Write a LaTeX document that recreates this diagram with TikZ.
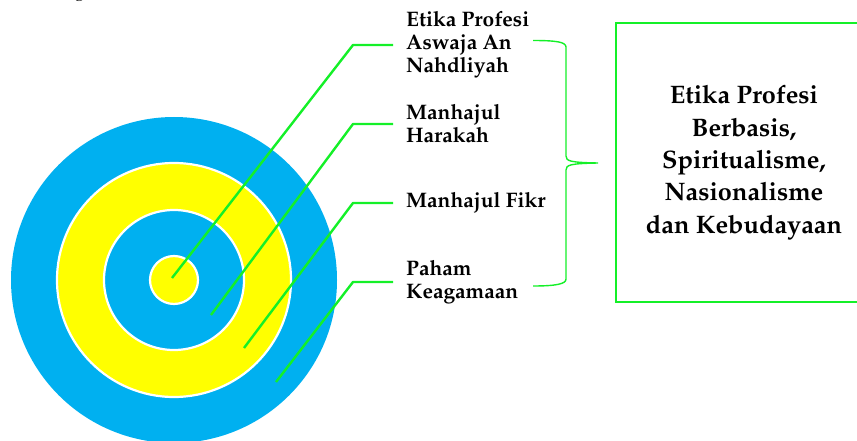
\documentclass[tikz,border=0pt]{standalone}
\usepackage[T1]{fontenc}
\usepackage{mathpazo}
\definecolor{ringblue}{RGB}{0,176,240}
\definecolor{ringyellow}{RGB}{255,255,0}
\definecolor{linegreen}{RGB}{20,240,40}
\tikzset{
  ring/.style={draw=white, line width=2.2pt},
  conn/.style={draw=linegreen, line width=2.4pt, line join=round},
  lbl/.style={anchor=west, align=left, inner xsep=13pt, inner ysep=0pt,
    font=\bfseries\fontsize{21}{23}\selectfont},
  bigbox/.style={draw=linegreen, line width=2.6pt, align=center,
    minimum width=256pt, minimum height=279pt,
    font=\bfseries\fontsize{25.3}{32.3}\selectfont},
  bracestyle/.style={draw=linegreen, line width=1.4pt}
}
\begin{document}
\begin{tikzpicture}[x=1pt,y=-1pt]
\useasboundingbox (0,0) rectangle (857,441);
% cut-off caption fragment (cut at the top edge, as in the reference)
\node[anchor=base west, inner sep=0pt, font=\fontsize{18}{20}\selectfont] (cap) at (64,-3.5) {ng (\hspace{166pt})};
% target circles
\fill[ringblue] (174,280) circle (163);
\filldraw[fill=ringyellow, ring] (174,280) circle (117);
\filldraw[fill=ringblue, ring] (174,280) circle (70);
\filldraw[fill=ringyellow, ring] (174,280) circle (24);
% end points inside the circles
\coordinate (p1) at (172,278);
\coordinate (p2) at (211,315);
\coordinate (p3) at (244,348);
\coordinate (p4) at (276,382);
% knees
\coordinate (k1) at (353,45);
\coordinate (k2) at (353,124);
\coordinate (k3) at (353,203);
\coordinate (k4) at (353,282);
% labels
\node[lbl] (l1) at (393,45) {Etika Profesi\\Aswaja An\\Nahdliyah};
\node[lbl] (l2) at (393,124) {Manhajul\\Harakah};
\node[lbl] (l3) at (393,203) {Manhajul Fikr};
\node[lbl] (l4) at (393,282) {Paham\\Keagamaan};
% connectors
\draw[conn] (p1) -- (k1) -- (l1.west);
\draw[conn] (p2) -- (k2) -- (l2.west);
\draw[conn] (p3) -- (k3) -- (l3.west);
\draw[conn] (p4) -- (k4) -- (l4.west);
% brace
\coordinate (bt) at (533,40.5);
\coordinate (bm) at (598,163);
\coordinate (bb) at (533,286);
\draw[bracestyle] (bt) .. controls (556,40.5) and (566,42) .. (566,47)
  -- (566,156) .. controls (566,161) and (570,162.5) .. (bm)
  .. controls (570,163.5) and (566,165) .. (566,170)
  -- (566,279) .. controls (566,284) and (556,286) .. (bb);
% big box
\node[bigbox] (box) at (744,162.6) {Etika Profesi\\Berbasis,\\Spiritualisme,\\Nasionalisme\\dan Kebudayaan};
\end{tikzpicture}
\end{document}
